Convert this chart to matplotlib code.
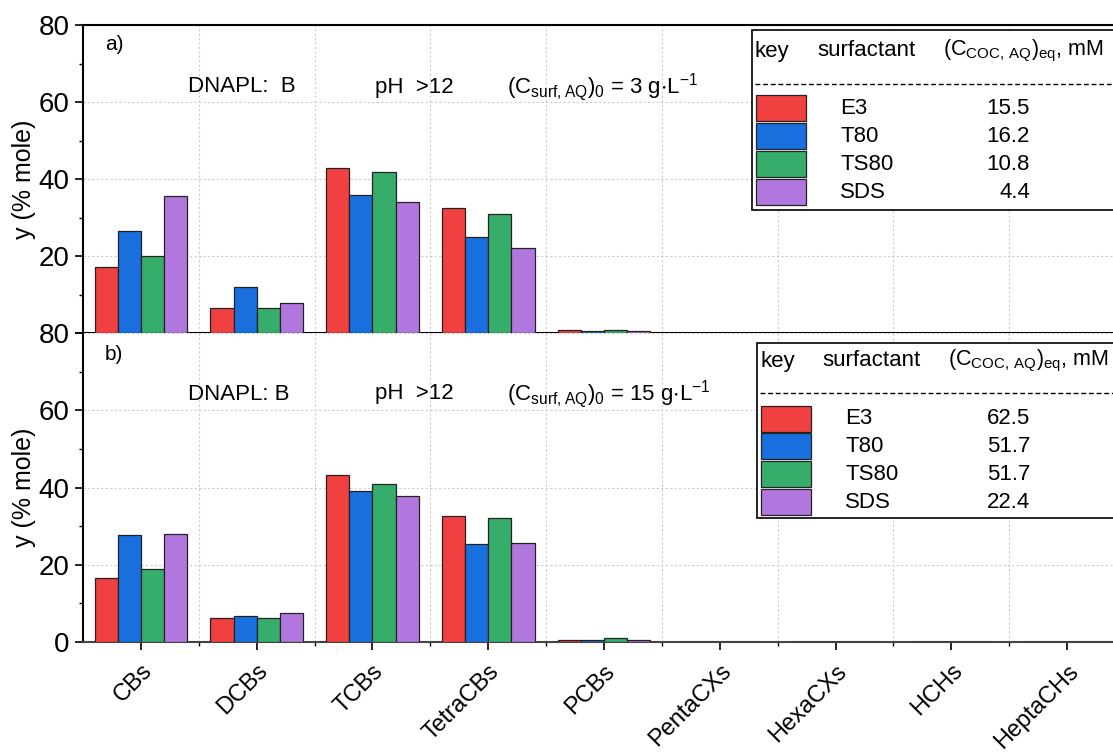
import matplotlib
matplotlib.use("Agg")
import matplotlib.pyplot as plt
import numpy as np
from matplotlib.patches import Rectangle
from matplotlib.lines import Line2D

plt.rcParams['font.family'] = ['Liberation Sans', 'DejaVu Sans']
plt.rcParams['mathtext.default'] = 'regular'

categories = ["CBs", "DCBs", "TCBs", "TetraCBs", "PCBs", "PentaCXs", "HexaCXs", "HCHs", "HeptaCHs"]
surfactants = ["E3", "T80", "TS80", "SDS"]
colors = ["#F14040", "#1A6FDF", "#37AD6B", "#B177DE"]

# panel a) (C_surf,AQ)0 = 3 g/L
a_E3 = [17.2, 6.4, 42.9, 32.5, 0.8, 0, 0, 0, 0]
a_T80 = [26.6, 11.9, 35.8, 25.0, 0.5, 0, 0, 0, 0]
a_TS80 = [20.0, 6.4, 41.8, 31.0, 0.7, 0, 0, 0, 0]
a_SDS = [35.7, 7.8, 34.1, 22.0, 0.5, 0, 0, 0, 0]
a_ceq = ["15.5", "16.2", "10.8", "4.4"]

# panel b) (C_surf,AQ)0 = 15 g/L
b_E3 = [16.6, 6.3, 43.3, 32.6, 0.6, 0, 0, 0, 0]
b_T80 = [27.8, 6.8, 39.2, 25.3, 0.5, 0, 0, 0, 0]
b_TS80 = [19.0, 6.3, 41.0, 32.1, 1.0, 0, 0, 0, 0]
b_SDS = [28.0, 7.6, 37.8, 25.6, 0.4, 0, 0, 0, 0]
b_ceq = ["62.5", "51.7", "51.7", "22.4"]

W, H = 1113, 753


def fx(x):
    return x / W


def fy(y):
    return 1 - y / H


fig = plt.figure(figsize=(W / 100, H / 100), dpi=100)
ax_a = fig.add_axes([fx(83), fy(333), fx(1125) - fx(83), fy(25) - fy(333)])
ax_b = fig.add_axes([fx(83), fy(642), fx(1125) - fx(83), fy(333) - fy(642)])

x = np.arange(len(categories))
bw = 0.2


def draw_panel(ax, series):
    for i, vals in enumerate(series):
        ax.bar(x + (i - 1.5) * bw, vals, bw, color=colors[i], edgecolor="#222222",
               linewidth=0.9, zorder=3)
    ax.set_xlim(-0.5, len(categories) - 0.5)
    ax.set_ylim(0, 80)
    ax.set_xticks(x)
    ax.set_xticks(x[:-1] + 0.5, minor=True)
    ax.set_yticks([0, 20, 40, 60, 80])
    ax.set_yticks([10, 30, 50, 70], minor=True)
    ax.tick_params(axis="both", which="major", direction="out", length=6, width=1.2, labelsize=20)
    ax.tick_params(axis="both", which="minor", direction="out", length=3, width=1)
    ax.grid(which="major", axis="y", linestyle=(0, (2, 2)), color="#cccccc", linewidth=0.8)
    ax.grid(which="minor", axis="x", linestyle=(0, (2, 2)), color="#cccccc", linewidth=0.8)
    ax.set_axisbelow(True)
    ax.spines["right"].set_visible(False)
    for s in ["left", "top", "bottom"]:
        ax.spines[s].set_linewidth(1.5)
    ax.set_ylabel("y (% mole)", fontsize=18, labelpad=2)


draw_panel(ax_a, [a_E3, a_T80, a_TS80, a_SDS])
draw_panel(ax_b, [b_E3, b_T80, b_TS80, b_SDS])

ax_a.set_xticklabels([])
ax_a.set_yticklabels(["", "20", "40", "60", "80"])
ax_b.set_xticklabels(categories, rotation=45, ha="right", rotation_mode="anchor", fontsize=17)
ax_b.tick_params(axis="x", which="major", pad=7)
ax_b.spines["top"].set_visible(False)
ax_b.spines["bottom"].set_color("#444444")

# annotations
fs = 16
fig.text(fx(105), fy(45), "a)", fontsize=15, va="center")
fig.text(fx(105), fy(354), "b)", fontsize=15, va="center")
for yy, lab, conc in [(87, "DNAPL:  B", "3"), (394, "DNAPL: B", "15")]:
    fig.text(fx(188), fy(yy), lab, fontsize=fs, va="center")
    fig.text(fx(375), fy(yy), "pH  >12", fontsize=fs, va="center")
    fig.text(fx(507), fy(yy), r"$(C_{surf,AQ})_0$ = " + conc + r" g$\cdot$L$^{-1}$", fontsize=fs, va="center")


def draw_key(x0, y0, y1, ytitle, ydash, rows, vals):
    fig.patches.append(Rectangle((fx(x0), fy(y1)), fx(1120) - fx(x0), fy(y0) - fy(y1),
                                 transform=fig.transFigure, facecolor="white",
                                 edgecolor="black", linewidth=1.2, zorder=5))
    fig.text(fx(x0 + 3), fy(ytitle), "key", fontsize=fs, va="center", zorder=6)
    fig.text(fx(x0 + 65), fy(ytitle), "surfactant", fontsize=fs, va="center", zorder=6)
    fig.text(fx(x0 + 191), fy(ytitle), r"$(C_{COC,\,AQ})_{eq}$, mM", fontsize=15.5, va="center", zorder=6)
    fig.lines.append(Line2D([fx(x0 + 3), fx(1113)], [fy(ydash), fy(ydash)], transform=fig.transFigure,
                            color="black", linewidth=1, linestyle=(0, (3.5, 2)), zorder=6))
    for i, yc in enumerate(rows):
        fig.patches.append(Rectangle((fx(x0 + 4), fy(yc + 13)), fx(50), fy(0) - fy(26),
                                     transform=fig.transFigure, facecolor=colors[i],
                                     edgecolor="#222222", linewidth=0.9, zorder=6))
        fig.text(fx(x0 + 88), fy(yc), surfactants[i], fontsize=fs, va="center", zorder=6)
        fig.text(fx(1030), fy(yc), vals[i], fontsize=fs, va="center", ha="right", zorder=6)


draw_key(752, 30, 210, 51, 84, [108, 136, 164, 192], a_ceq)
draw_key(757, 343, 518, 361, 393, [419, 446, 474, 502], b_ceq)

fig.savefig("out.png", dpi=100)
